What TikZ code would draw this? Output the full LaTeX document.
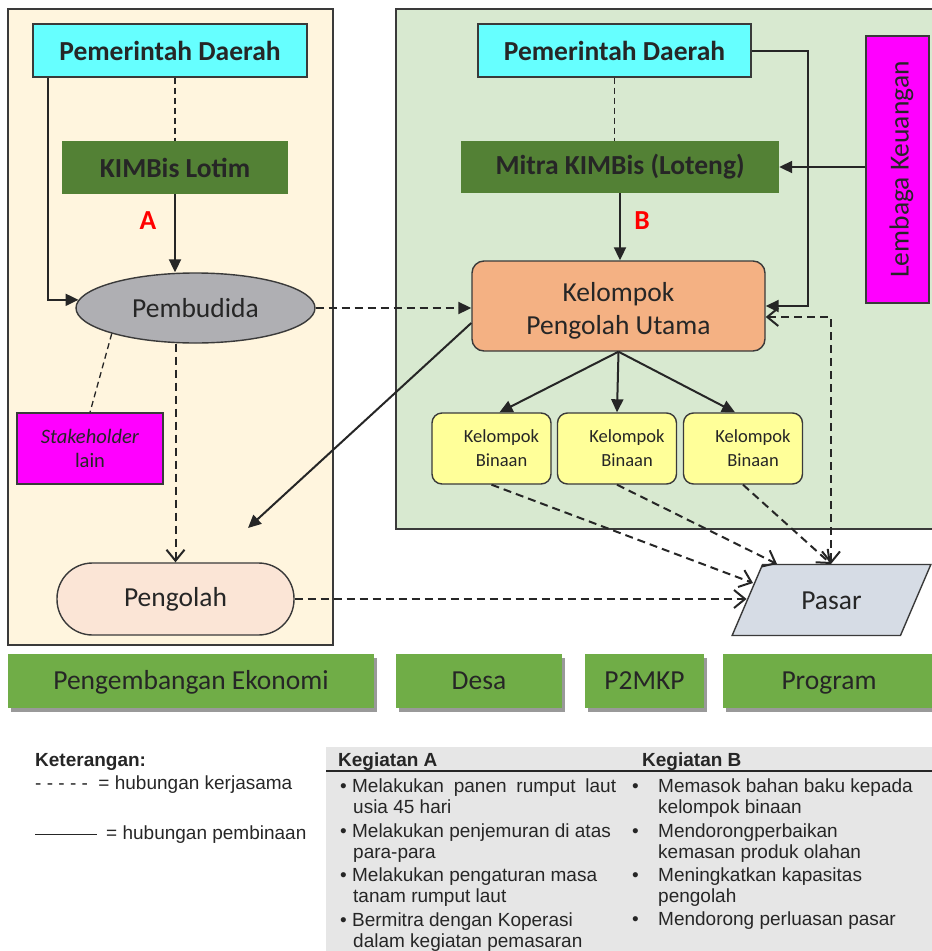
\documentclass[tikz,border=0pt]{standalone}
\usepackage{fontspec}
\usepackage{graphicx}
\setmainfont{Carlito}
\newfontfamily\legendfont{Liberation Sans}
\usetikzlibrary{arrows.meta,shapes.geometric,shadows}

\definecolor{ink}{HTML}{262626}
\definecolor{edge}{HTML}{3A3A3A}
\definecolor{cream}{HTML}{FFF5DE}
\definecolor{mint}{HTML}{D8E9D0}
\definecolor{cyanbox}{HTML}{66FFFF}
\definecolor{kimgreen}{HTML}{538135}
\definecolor{pembgray}{HTML}{AFAFB3}
\definecolor{shmagenta}{HTML}{FF00FF}
\definecolor{peach}{HTML}{F4B183}
\definecolor{lightpeach}{HTML}{FBE5D6}
\definecolor{paleyellow}{HTML}{FFFF99}
\definecolor{pasarblue}{HTML}{D6DCE5}
\definecolor{bargreen}{HTML}{70AD47}
\definecolor{tablegray}{HTML}{E6E6E6}

\begin{document}
\begin{tikzpicture}[x=1pt,y=1pt]
    \tikzstyle{every node}+=[inner sep=0pt, text=ink]
    \tikzstyle{big}=[font=\fontsize{27.5}{33}\selectfont]
    \tikzstyle{bigbold}=[font=\fontsize{27.5}{33}\selectfont\bfseries]
    \tikzstyle{box}=[draw=edge, line width=1.4pt]
    \tikzstyle{binaan}=[box, fill=paleyellow, rounded corners=10pt, minimum width=119, minimum height=71, align=center, font=\fontsize{18.5}{24}\selectfont]
    \tikzstyle{bar}=[fill=bargreen, minimum height=54, big, text height=22pt, text depth=6pt, drop shadow={shadow xshift=3pt, shadow yshift=-4pt, fill=black!40, opacity=1}]
    \tikzstyle{legend}=[anchor=base west, font=\fontsize{19}{22}\selectfont\legendfont]
    \tikzstyle{pembinaan}=[draw=ink, line width=2pt, -{Triangle[length=13pt,width=12pt]}]
    \tikzstyle{kerjasama}=[draw=ink, line width=2pt, dash pattern=on 8pt off 5pt, -{Straight Barb[length=11pt,width=18pt]}]
    \tikzstyle{sambung}=[draw=ink, line width=1.3pt, dash pattern=on 6pt off 4pt]

    \useasboundingbox (0,0) rectangle (932,-951);

    % panels
    \draw [fill=cream, draw=edge, line width=1.4pt] (8,-9) rectangle (333,-645);
    \fill [mint] (396,-9) rectangle (932,-529);
    \draw [edge, line width=1.4pt] (932,-9) -- (396,-9) -- (396,-529) -- (932,-529);

    % kiri (A)
    \node [box, fill=cyanbox, bigbold, minimum width=274, minimum height=53] (pdl) at (170,-50.5) {Pemerintah Daerah};
    \node [fill=kimgreen, bigbold, minimum width=226, minimum height=53] (kl) at (175,-167.5) {KIMBis Lotim};
    \node [bigbold, text=red] (labA) at (148,-221) {A};
    \node [box, ellipse, fill=pembgray, big, minimum width=239, minimum height=70] (pemb) at (195.5,-308) {Pembudida};
    \node [box, fill=shmagenta, minimum width=146, minimum height=71, align=center, font=\fontsize{20.5}{24}\selectfont] (sh) at (90,-448.5) {\textit{Stakeholder}\\lain};
    \node [box, fill=lightpeach, rounded corners=35.5pt, minimum width=237, minimum height=72, big] (pg) at (175.5,-599) {Pengolah};

    % kanan (B)
    \node [box, fill=cyanbox, bigbold, minimum width=273, minimum height=53] (pdr) at (614.5,-50.5) {Pemerintah Daerah};
    \node [fill=kimgreen, bigbold, minimum width=318, minimum height=52] (mitra) at (620,-167) {Mitra KIMBis (Loteng)};
    \node [bigbold, text=red] (labB) at (642,-221) {B};
    \node [box, fill=shmagenta, big, minimum width=63, minimum height=267] (lk) at (897.5,-169.5) {\hspace*{8pt}\rotatebox{90}{Lembaga Keuangan}};
    \node [box, fill=peach, rounded corners=12pt, minimum width=293, minimum height=90, align=center, big] (kpu) at (618.5,-306) {\rule{0pt}{28pt}Kelompok\\Pengolah Utama};
    \node [binaan] (kb1) at (491.5,-448.5) {\hspace*{20pt}Kelompok\\\hspace*{20pt}Binaan};
    \node [binaan] (kb2) at (617,-448.5) {\hspace*{20pt}Kelompok\\\hspace*{20pt}Binaan};
    \node [binaan] (kb3) at (743,-448.5) {\hspace*{20pt}Kelompok\\\hspace*{20pt}Binaan};
    \node [box, trapezium, trapezium left angle=55, trapezium right angle=125, trapezium stretches=true, fill=pasarblue, minimum width=199, minimum height=71, big, text height=19pt, text depth=0pt] (pasar) at (831.5,-600) {Pasar};

    \coordinate (pgtip) at (248,-528);
    \coordinate (p1) at (753,-583);
    \coordinate (p2) at (777,-564);
    \coordinate (pasartop) at (831,-564);

    % hubungan pembinaan
    \draw [pembinaan] ([xshift=16pt]pdl.south west) |- (pemb.176);
    \draw [pembinaan] (kl.south) -- (kl.south |- pemb.north);
    \draw [pembinaan] (mitra.south) -- (mitra.south |- kpu.north);
    \draw [pembinaan] (lk.west |- mitra.east) -- (mitra.east);
    \draw [pembinaan] (pdr.east) -- ++(56,0) |- (kpu.east);
    \draw [pembinaan] ([yshift=-17pt]kpu.west) -- (pgtip);
    \draw [pembinaan] (kpu.south) -- ([xshift=8pt]kb1.north);
    \draw [pembinaan] (kpu.south) -- (kb2.north);
    \draw [pembinaan] (kpu.south) -- ([xshift=-8pt]kb3.north);

    % hubungan kerjasama
    \draw [sambung] (pdl.south -| kl.north) -- (kl.north);
    \draw [sambung] (pdr.south) -- (pdr.south |- mitra.north);
    \draw [sambung] (pemb.197) -- (sh.north);
    \draw [kerjasama] (pg.north |- pemb.south) -- (pg.north);
    \draw [kerjasama, -{Triangle[length=13pt,width=12pt]}] (pemb.east) -- (pemb.east -| kpu.west);
    \draw [kerjasama] (pg.east) -- (pg.east -| pasar.left side);
    \draw [kerjasama] (kb1.south) -- (p1);
    \draw [kerjasama] (kb2.south) -- (p2);
    \draw [kerjasama] (kb3.south) -- (pasartop);
    \draw [kerjasama, {Straight Barb[length=11pt,width=18pt]}-{Straight Barb[length=11pt,width=18pt]}] ([yshift=-11pt]kpu.east) -| (pasartop);

    % program
    \node [bar, minimum width=366] (b1) at (191,-681) {Pengembangan Ekonomi};
    \node [bar, minimum width=166] (b2) at (479,-681) {Desa};
    \node [bar, minimum width=119] (b3) at (644.5,-681) {P2MKP};
    \node [bar, minimum width=212] (b4) at (829,-681) {Program};

    % keterangan
    \node [legend, font=\fontsize{19}{22}\selectfont\legendfont\bfseries] (ket) at (35,-766) {Keterangan:};
    \node [legend] (ketks) at (35,-789) {- - - - -\ \ = hubungan kerjasama};
    \draw [ink, line width=1pt] (35,-834) -- (97,-834);
    \node [legend] (ketpb) at (106,-839) {= hubungan pembinaan};

    % kegiatan
    \fill [tablegray] (326,-747) rectangle (932,-951);
    \draw [ink, line width=1.3pt] (326,-771) -- (932,-771);
    \node [legend, font=\fontsize{19}{22}\selectfont\legendfont\bfseries] (kgA) at (338,-766) {Kegiatan A};
    \node [legend, font=\fontsize{19}{22}\selectfont\legendfont\bfseries] (kgB) at (642,-766) {Kegiatan B};

    \node [legend] (a1) at (340,-792) {•\ \makebox[264pt][s]{Melakukan panen rumput laut}};
    \node [legend] (a1b) at (353,-813) {usia 45 hari};
    \node [legend] (a2) at (340,-837) {•\ Melakukan penjemuran di atas};
    \node [legend] (a2b) at (353,-858) {para-para};
    \node [legend] (a3) at (340,-881) {•\ Melakukan pengaturan masa};
    \node [legend] (a3b) at (353,-902) {tanam rumput laut};
    \node [legend] (a4) at (340,-926) {•\ Bermitra dengan Koperasi};
    \node [legend] (a4b) at (353,-947) {dalam kegiatan pemasaran};

    \node [legend] (b1a) at (632,-792) {\makebox[26pt][l]{•}Memasok bahan baku kepada};
    \node [legend] (b1b) at (658,-813) {kelompok binaan};
    \node [legend] (b2a) at (632,-837) {\makebox[26pt][l]{•}Mendorongperbaikan};
    \node [legend] (b2b) at (658,-858) {kemasan produk olahan};
    \node [legend] (b3a) at (632,-881) {\makebox[26pt][l]{•}Meningkatkan kapasitas};
    \node [legend] (b3b) at (658,-902) {pengolah};
    \node [legend] (b4a) at (632,-925) {\makebox[26pt][l]{•}Mendorong perluasan pasar};
\end{tikzpicture}
\end{document}
